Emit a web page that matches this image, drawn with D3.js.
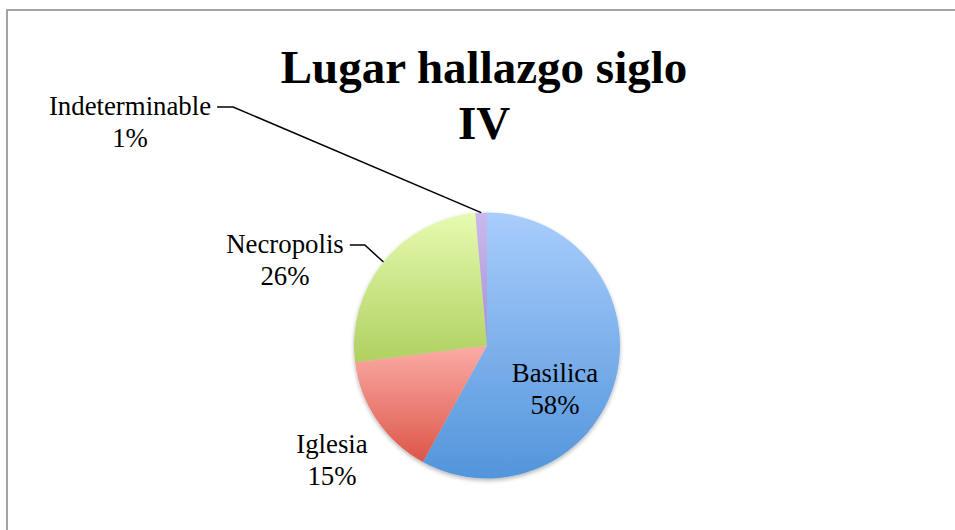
<!DOCTYPE html>
<html>
<head>
<meta charset="utf-8">
<script src="https://cdn.jsdelivr.net/npm/d3@7"></script>
<style>
  body { margin: 0; background: #fff; }
  svg { display: block; }
  .serif { font-family: "Liberation Serif", "Times New Roman", Times, "DejaVu Serif", serif; }
</style>
</head>
<body>
<script>
// data
const categories = ["Basilica", "Iglesia", "Necropolis", "Indeterminable"];
const shares = [58, 15, 25.6, 1.4];
const colorsTop = ["#a9cdfc", "#fbaca5", "#e6fbb0", "#cbb9ed"];
const colorsBottom = ["#5295db", "#dc5649", "#b0d060", "#a592d4"];

var width = 955, height = 530;
var cx = 487, cy = 345.5, r = 133;

let svg = d3.select("body").append("svg")
  .attr("width", width)
  .attr("height", height);

// chart frame (right and bottom run off the picture)
svg.append("rect")
  .attr("x", 7).attr("y", 10)
  .attr("width", 1000).attr("height", 600)
  .attr("fill", "none")
  .attr("stroke", "#a3a3a3")
  .attr("stroke-width", 2);

let defs = svg.append("defs");
categories.forEach((c, i) => {
  let g = defs.append("linearGradient")
    .attr("id", "grad" + i)
    .attr("x1", 0).attr("y1", 0).attr("x2", 0).attr("y2", 1);
  g.append("stop").attr("offset", "0%").attr("stop-color", colorsTop[i]);
  g.append("stop").attr("offset", "100%").attr("stop-color", colorsBottom[i]);
});

let shadow = defs.append("filter").attr("id", "shadow")
  .attr("x", "-20%").attr("y", "-20%").attr("width", "140%").attr("height", "140%");
shadow.append("feGaussianBlur").attr("in", "SourceAlpha").attr("stdDeviation", 2);
shadow.append("feOffset").attr("dx", 0).attr("dy", 2).attr("result", "b");
shadow.append("feComponentTransfer").append("feFuncA").attr("type", "linear").attr("slope", 0.3);
let merge = shadow.append("feMerge");
merge.append("feMergeNode");
merge.append("feMergeNode").attr("in", "SourceGraphic");

// title
let title = svg.append("text")
  .attr("class", "serif")
  .attr("x", 484)
  .attr("text-anchor", "middle")
  .attr("font-weight", "bold")
  .attr("font-size", 47)
  .attr("fill", "#000");
title.append("tspan").attr("x", 484).attr("y", 83).text("Lugar hallazgo siglo");
title.append("tspan").attr("x", 484).attr("y", 139).text("IV");

let data = categories.map((c, i) => ({ name: c, value: shares[i], idx: i }));
let pie = d3.pie().sort(null).value(d => d.value);
let arcs = pie(data);
let arc = d3.arc().innerRadius(0).outerRadius(r);
let edge = d3.arc().innerRadius(r).outerRadius(r);

let chart = svg.append("g").attr("transform", `translate(${cx},${cy})`);

chart.append("g").attr("filter", "url(#shadow)")
  .selectAll("path")
  .data(arcs)
  .join("path")
  .attr("d", arc)
  .attr("fill", d => `url(#grad${d.data.idx})`);

let total = d3.sum(shares);
let pct = d => Math.round(d.data.value / total * 100) + "%";

// label anchor (text centre x, first baseline) relative to pie centre
let labelPos = {
  "Basilica": [68, 36.5],
  "Iglesia": [-155, 107.5],
  "Necropolis": [-202, -92.5],
  "Indeterminable": [-357, -230.5]
};
// labels outside the pie get a leader line
let outside = { "Necropolis": 15, "Indeterminable": 16 };

arcs.forEach(d => {
  let [lx, ly] = labelPos[d.data.name];
  let t = chart.append("text")
    .attr("class", "serif")
    .attr("text-anchor", "middle")
    .attr("font-size", 26.8)
    .attr("fill", "#000");
  t.append("tspan").attr("x", lx).attr("y", ly).text(d.data.name);
  t.append("tspan").attr("x", lx).attr("y", ly + 31.5).text(pct(d));

  if (outside[d.data.name]) {
    let w = t.select("tspan").node().getComputedTextLength();
    let x0 = lx + w / 2 + 6;
    let y0 = ly - 8;
    let p = edge.centroid(d);
    chart.append("path")
      .attr("d", d3.line()([[x0, y0], [x0 + outside[d.data.name], y0], p]))
      .attr("fill", "none")
      .attr("stroke", "#000")
      .attr("stroke-width", 1.5);
  }
});
</script>
</body>
</html>
